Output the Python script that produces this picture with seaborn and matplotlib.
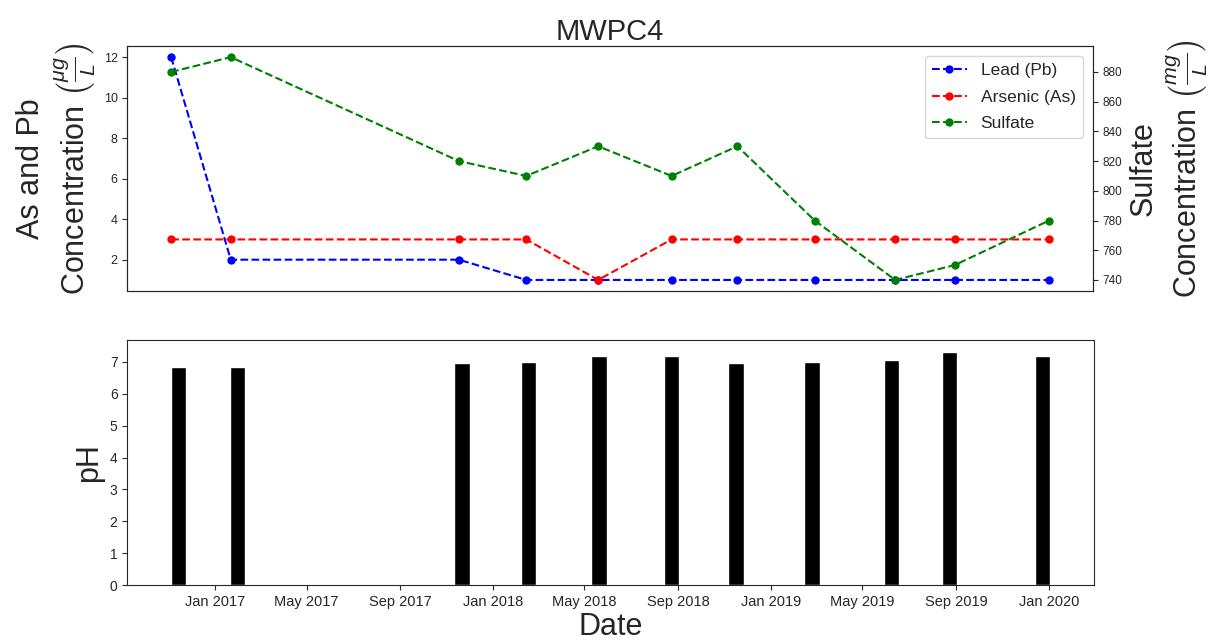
import matplotlib
matplotlib.use("Agg")
import matplotlib.pyplot as plt
import matplotlib.dates as mdates
import numpy as np
import pandas as pd
import seaborn as sns

# Sampling dates for well MWPC4
sample_dates = pd.to_datetime([
    "2016-11-14", "2017-01-30", "2017-11-21", "2018-02-16", "2018-05-20",
    "2018-08-23", "2018-11-16", "2019-02-24", "2019-06-08", "2019-08-24",
    "2019-12-24",
])

# Concentrations (ug/L)
lead_pb = [12, 2, 2, 1, 1, 1, 1, 1, 1, 1, 1]
arsenic_as = [3, 3, 3, 3, 1, 3, 3, 3, 3, 3, 3]
# Sulfate (mg/L)
sulfate = [880, 890, 820, 810, 830, 810, 830, 780, 740, 750, 780]
# Field pH
ph = [6.85, 6.85, 6.97, 7.01, 7.2, 7.2, 6.97, 7.01, 7.05, 7.32, 7.2]

sns.set_style("ticks")
plt.rcParams["font.family"] = ["Liberation Sans", "DejaVu Sans"]
plt.rcParams["mathtext.fontset"] = "custom"
plt.rcParams["mathtext.rm"] = "Liberation Sans"
plt.rcParams["mathtext.it"] = "Liberation Sans:italic"

fig = plt.figure(figsize=(12.17, 6.44), dpi=100)
ax = fig.add_axes([0.1046, 0.548, 0.7935, 0.3806])
ax_b = fig.add_axes([0.1046, 0.0916, 0.7945, 0.3804])
ax2 = ax.twinx()

sns.lineplot(x=sample_dates, y=lead_pb, ax=ax, color="blue", linestyle="--",
             marker="o", markersize=6, markeredgewidth=0, linewidth=1.5,
             label="Lead (Pb)", legend=False)
sns.lineplot(x=sample_dates, y=arsenic_as, ax=ax, color="red", linestyle="--",
             marker="o", markersize=6, markeredgewidth=0, linewidth=1.5,
             label="Arsenic (As)", legend=False)
sns.lineplot(x=sample_dates, y=sulfate, ax=ax2, color="green", linestyle="--",
             marker="o", markersize=6, markeredgewidth=0, linewidth=1.5,
             label="Sulfate", legend=False)

ax.set_yticks([2, 4, 6, 8, 10, 12])
ax2.set_yticks(np.arange(740, 881, 20))
ax.set_xticks([])
ax2.set_xticks([])
ax.set_xlabel("")
ax.tick_params(axis="y", labelsize=9)
ax2.tick_params(axis="y", labelsize=8.5)
ax.set_ylabel("As and Pb\nConcentration $\\left(\\frac{\\mu g}{L}\\right)$",
              fontsize=22)
ax2.set_ylabel("Sulfate\nConcentration $\\left(\\frac{mg}{L}\\right)$",
               fontsize=22)
ax.set_title("MWPC4", fontsize=21, pad=4)

h1, l1 = ax.get_legend_handles_labels()
h2, l2 = ax2.get_legend_handles_labels()
ax2.legend(h1 + h2, l1 + l2, loc="upper right", fontsize=12.5,
           labelspacing=0.65, borderaxespad=0.6)

# pH bars
ax_b.bar(sample_dates, ph, width=20, color="black")
ax_b.xaxis.set_major_locator(mdates.MonthLocator(bymonth=[1, 5, 9]))
ax_b.xaxis.set_major_formatter(mdates.DateFormatter("%b %Y"))
ax_b.set_yticks(range(0, 8))
ax_b.tick_params(axis="x", labelsize=10.5)
ax_b.tick_params(axis="y", labelsize=10)
ax_b.set_ylabel("pH", fontsize=22)
ax_b.set_xlabel("Date", fontsize=22, labelpad=2)

fig.savefig("out.png", dpi=100)
